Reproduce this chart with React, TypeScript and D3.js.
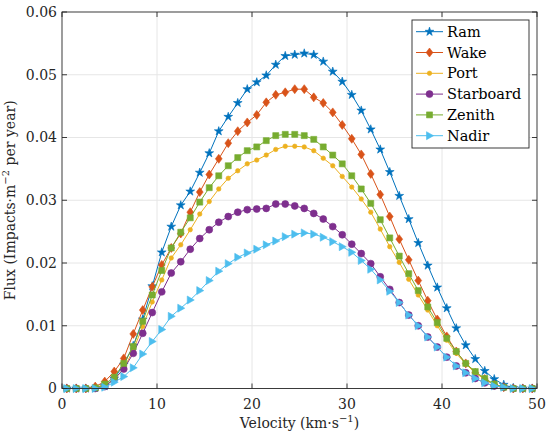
import * as d3 from 'd3';
import React from 'react';

const velocity = [
  0.5, 1.5, 2.5, 3.5, 4.5, 5.5, 6.5, 7.5, 8.5, 9.5,
  10.5, 11.5, 12.5, 13.5, 14.5, 15.5, 16.5, 17.5, 18.5, 19.5,
  20.5, 21.5, 22.5, 23.5, 24.5, 25.5, 26.5, 27.5, 28.5, 29.5,
  30.5, 31.5, 32.5, 33.5, 34.5, 35.5, 36.5, 37.5, 38.5, 39.5,
  40.5, 41.5, 42.5, 43.5, 44.5, 45.5, 46.5, 47.5, 48.5, 49.5,
];

const ram = [
  0, 0, 0, 0.0001, 0.0004, 0.0016, 0.0038, 0.0068, 0.011, 0.0163,
  0.0217, 0.0258, 0.0292, 0.0314, 0.0344, 0.0375, 0.041, 0.0433, 0.0455, 0.0477,
  0.0488, 0.0499, 0.0516, 0.053, 0.0532, 0.0534, 0.0532, 0.0521, 0.0505, 0.0489,
  0.0468, 0.0443, 0.0413, 0.0381, 0.0345, 0.0307, 0.027, 0.0232, 0.0196, 0.0161,
  0.0128, 0.0096, 0.0069, 0.0047, 0.0028, 0.0015, 0.0006, 0.0001, 0, 0,
];

const wake = [
  0, 0, 0, 0.0003, 0.0011, 0.0027, 0.0048, 0.0087, 0.0125, 0.0162,
  0.0197, 0.0224, 0.0247, 0.0281, 0.0313, 0.0341, 0.0366, 0.0391, 0.041, 0.0424,
  0.0436, 0.0456, 0.0468, 0.0472, 0.0477, 0.0477, 0.0464, 0.0455, 0.044, 0.042,
  0.0398, 0.0373, 0.0342, 0.0309, 0.0274, 0.0238, 0.0205, 0.0172, 0.014, 0.011,
  0.0083, 0.0059, 0.004, 0.0025, 0.0015, 0.0006, 0.0002, 0, 0, 0,
];

const port = [
  0, 0, 0, 0.0001, 0.0005, 0.0014, 0.0032, 0.0061, 0.0099, 0.0138,
  0.0173, 0.0208, 0.0229, 0.0253, 0.0278, 0.0298, 0.0318, 0.0335, 0.0347, 0.0358,
  0.0364, 0.0372, 0.0381, 0.0386, 0.0386, 0.0385, 0.0379, 0.0367, 0.0355, 0.0338,
  0.0321, 0.0302, 0.0281, 0.0254, 0.0226, 0.0201, 0.0174, 0.0149, 0.0125, 0.01,
  0.0077, 0.0056, 0.0039, 0.0025, 0.0015, 0.0006, 0.0002, 0, 0, 0,
];

const starboard = [
  0, 0, 0, 0, 0.0003, 0.0015, 0.0031, 0.0056, 0.0088, 0.0121,
  0.0154, 0.0184, 0.0202, 0.0222, 0.0239, 0.0253, 0.0265, 0.0274, 0.0281, 0.0285,
  0.0286, 0.0287, 0.0294, 0.0294, 0.0291, 0.0287, 0.0279, 0.027, 0.0258, 0.0245,
  0.023, 0.0215, 0.0199, 0.0178, 0.0158, 0.0137, 0.0117, 0.01, 0.0082, 0.0066,
  0.005, 0.0036, 0.0025, 0.0016, 0.0009, 0.0004, 0.0002, 0, 0, 0,
];

const zenith = [
  0, 0, 0, 0.0001, 0.0007, 0.0018, 0.004, 0.0067, 0.0107, 0.0149,
  0.0188, 0.0224, 0.0249, 0.0272, 0.0297, 0.032, 0.0339, 0.0355, 0.0368, 0.0379,
  0.0385, 0.0395, 0.0403, 0.0405, 0.0405, 0.0403, 0.0397, 0.0385, 0.0372, 0.0358,
  0.0339, 0.0318, 0.0295, 0.0269, 0.024, 0.0211, 0.0183, 0.0156, 0.013, 0.0105,
  0.008, 0.0059, 0.004, 0.0027, 0.0016, 0.0007, 0.0002, 0, 0, 0,
];

const nadir = [
  0, 0, 0, 0, 0.0002, 0.001, 0.0019, 0.0033, 0.0055, 0.0075,
  0.0094, 0.0115, 0.0128, 0.0141, 0.0156, 0.0172, 0.0187, 0.0199, 0.0209, 0.0216,
  0.0222, 0.0229, 0.0235, 0.0242, 0.0246, 0.0248, 0.0246, 0.0241, 0.0234, 0.0226,
  0.0217, 0.0204, 0.019, 0.0173, 0.0155, 0.0137, 0.0117, 0.01, 0.0082, 0.0066,
  0.005, 0.0036, 0.0025, 0.0016, 0.0009, 0.0004, 0.0002, 0, 0, 0,
];

const xTicks = [0, 10, 20, 30, 40, 50];
const yTicks = [0, 0.01, 0.02, 0.03, 0.04, 0.05, 0.06];
const yTickLabels = ['0', '0.01', '0.02', '0.03', '0.04', '0.05', '0.06'];

type MarkerKind = 'star' | 'diamond' | 'dot' | 'circle' | 'square' | 'triangleRight';

interface Series {
  name: string;
  values: number[];
  color: string;
  marker: MarkerKind;
}

const series: Series[] = [
  { name: 'Ram', values: ram, color: '#0072BD', marker: 'star' },
  { name: 'Wake', values: wake, color: '#D95319', marker: 'diamond' },
  { name: 'Port', values: port, color: '#EDB120', marker: 'dot' },
  { name: 'Starboard', values: starboard, color: '#7E2F8E', marker: 'circle' },
  { name: 'Zenith', values: zenith, color: '#77AC30', marker: 'square' },
  { name: 'Nadir', values: nadir, color: '#4DBEEE', marker: 'triangleRight' },
];

const starPath = d3.symbol(d3.symbolStar, 24)() || '';
const circlePath = d3.symbol(d3.symbolCircle, 38)() || '';
const dotPath = d3.symbol(d3.symbolCircle, 16)() || '';

const markerPath = (kind: MarkerKind): string => {
  switch (kind) {
    case 'star':
      return starPath;
    case 'diamond':
      return 'M0,-4.5L3.4,0L0,4.5L-3.4,0Z';
    case 'dot':
      return dotPath;
    case 'circle':
      return circlePath;
    case 'square':
      return 'M-3,-3H3V3H-3Z';
    case 'triangleRight':
      return 'M4,0L-3,-4L-3,4Z';
  }
};

const Marker: React.FC<{ kind: MarkerKind; x: number; y: number; color: string }> = ({ kind, x, y, color }) => (
  <path d={markerPath(kind)} transform={`translate(${x},${y})`} fill={color} stroke={color} strokeWidth={0.6} />
);

const FluxChart: React.FC = () => {
  const width = 550;
  const height = 440;
  const margin = { top: 12, right: 13, bottom: 51.5, left: 62 };
  const innerWidth = width - margin.left - margin.right;
  const innerHeight = height - margin.top - margin.bottom;
  const font = "'DejaVu Serif', serif";
  const axisColor = '#262626';

  const xScale = d3.scaleLinear().domain([0, 50]).range([0, innerWidth]);
  const yScale = d3.scaleLinear().domain([0, 0.06]).range([innerHeight, 0]);

  const line = d3
    .line<number>()
    .x((_, i) => xScale(velocity[i]))
    .y((d) => yScale(d));

  const legend = { x: 350, y: 8, w: 117, h: 128, row: 20.8 };

  return (
    <svg
      width={width}
      height={height}
      style={{ position: 'absolute', left: 0, top: 0, background: '#fff', fontFamily: font }}
    >
      <g transform={`translate(${margin.left},${margin.top})`}>
        {/* grid */}
        {xTicks.slice(1, -1).map((t) => (
          <line key={`gx-${t}`} x1={xScale(t)} x2={xScale(t)} y1={0} y2={innerHeight} stroke="#e6e6e6" strokeWidth={1} />
        ))}
        {yTicks.slice(1, -1).map((t) => (
          <line key={`gy-${t}`} x1={0} x2={innerWidth} y1={yScale(t)} y2={yScale(t)} stroke="#e6e6e6" strokeWidth={1} />
        ))}

        {/* series */}
        {series.map((s) => (
          <g key={s.name}>
            <path d={line(s.values) || ''} fill="none" stroke={s.color} strokeWidth={1} />
            {s.values.map((v, i) => (
              <Marker key={i} kind={s.marker} x={xScale(velocity[i])} y={yScale(v)} color={s.color} />
            ))}
          </g>
        ))}

        {/* axes box and ticks */}
        <rect x={0} y={0} width={innerWidth} height={innerHeight} fill="none" stroke={axisColor} strokeWidth={0.9} />
        {xTicks.map((t) => (
          <g key={`xt-${t}`} transform={`translate(${xScale(t)},0)`}>
            <line y1={innerHeight} y2={innerHeight - 5} stroke={axisColor} strokeWidth={0.9} />
            <line y1={0} y2={5} stroke={axisColor} strokeWidth={0.9} />
            <text y={innerHeight + 20} textAnchor="middle" fontSize={14} fill={axisColor}>
              {t}
            </text>
          </g>
        ))}
        {yTicks.map((t, i) => (
          <g key={`yt-${t}`} transform={`translate(0,${yScale(t)})`}>
            <line x1={0} x2={5} stroke={axisColor} strokeWidth={0.9} />
            <line x1={innerWidth} x2={innerWidth - 5} stroke={axisColor} strokeWidth={0.9} />
            <text x={-5} dy="0.35em" textAnchor="end" fontSize={14} fill={axisColor}>
              {yTickLabels[i]}
            </text>
          </g>
        ))}

        {/* axis labels */}
        <text x={innerWidth / 2} y={innerHeight + 39.5} textAnchor="middle" fontSize={14} fill={axisColor}>
          Velocity (km·s
          <tspan dy={-6} fontSize={10}>
            −1
          </tspan>
          <tspan dy={6}>)</tspan>
        </text>
        <text
          transform={`translate(${-47},${innerHeight / 2}) rotate(-90)`}
          textAnchor="middle"
          fontSize={14}
          fill={axisColor}
        >
          Flux (Impacts·m
          <tspan dy={-6} fontSize={10}>
            −2
          </tspan>
          <tspan dy={6}> per year)</tspan>
        </text>

        {/* legend */}
        <g transform={`translate(${legend.x},${legend.y})`}>
          <rect x={0} y={0} width={legend.w} height={legend.h} fill="#fff" stroke={axisColor} strokeWidth={0.9} />
          {series.map((s, i) => {
            const cy = 11.7 + i * legend.row;
            return (
              <g key={`lg-${s.name}`}>
                <line x1={4} x2={31} y1={cy} y2={cy} stroke={s.color} strokeWidth={1} />
                <Marker kind={s.marker} x={17.5} y={cy} color={s.color} />
                <text x={35} y={cy} dy="0.35em" fontSize={14.5} fill="#000">
                  {s.name}
                </text>
              </g>
            );
          })}
        </g>
      </g>
    </svg>
  );
};

export default function App() {
  return <FluxChart />;
}
